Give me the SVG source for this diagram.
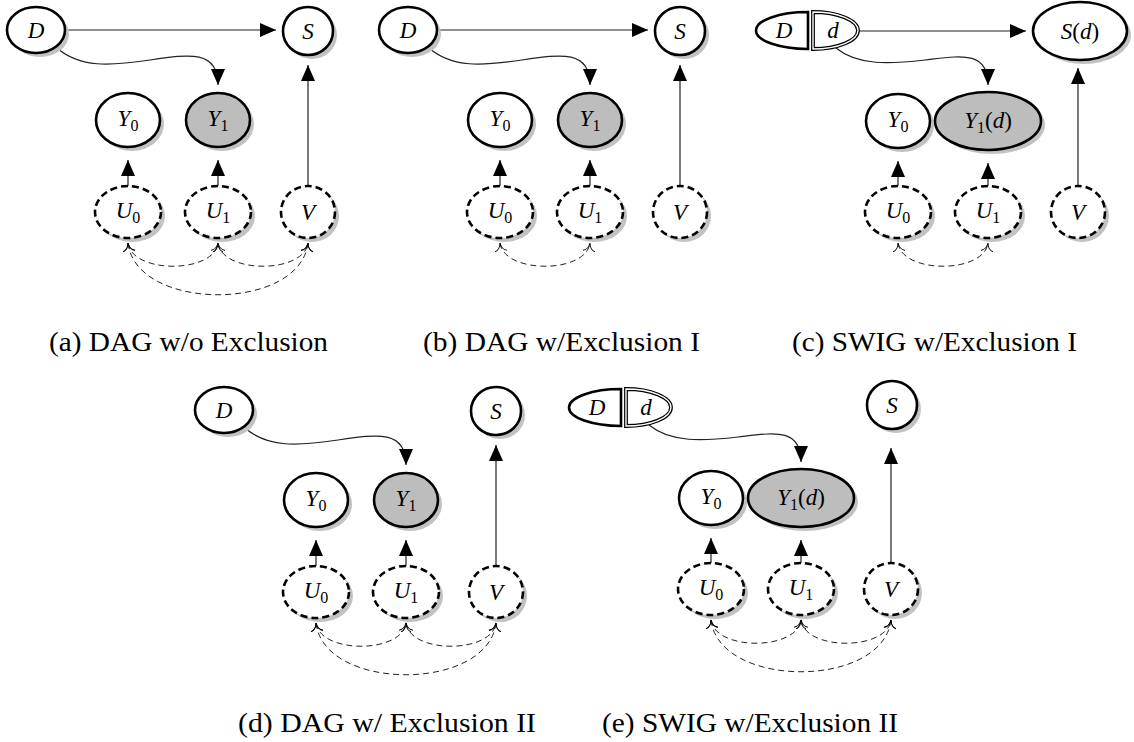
<svg xmlns="http://www.w3.org/2000/svg" width="1134" height="742" viewBox="0 0 1134 742">
<style>
.sh{fill:#c2c2c2;stroke:none}
.nd{fill:#fff;stroke:#000;stroke-width:2.6}
.obs{fill:#bdbdbd}
.lat{stroke-dasharray:7 4}
.lbl{font-size:23px;font-style:italic;text-anchor:middle;fill:#000}
.up{font-style:normal}
.sub{font-style:normal;font-size:16px}
.e{fill:none;stroke:#222;stroke-width:1.2}
.bi{fill:none;stroke:#222;stroke-width:1;stroke-dasharray:6 4}
.cap{font-size:27px;fill:#000}
</style>
<defs>
<marker id="arr" markerUnits="userSpaceOnUse" viewBox="-17 -8 18 16" markerWidth="18" markerHeight="16" refX="0" refY="0" orient="auto"><path d="M0,0 L-16,-7 L-16,7 Z" fill="#000" stroke="none"/></marker>
<marker id="to" markerUnits="userSpaceOnUse" viewBox="-9 -8 10 16" markerWidth="10" markerHeight="16" refX="0" refY="0" orient="auto-start-reverse"><path d="M-8,-6 C-7.5,-3 -4,-0.5 0,0 C-4,0.5 -7.5,3 -8,6" fill="none" stroke="#000" stroke-width="1" stroke-dasharray="none"/></marker>
</defs>

<g font-family="Liberation Serif, DejaVu Serif, serif">
<!-- Panel (a) -->
<g id="panel-a">
<g id="a-edges">
<path class="e" d="M66,30 L276,30" marker-end="url(#arr)"/>
<path class="e" d="M57,48 C80,68 110,66 150,60 C190,54 218,50 218,85" marker-end="url(#arr)"/>
<path class="e" d="M128,186 L128,160" marker-end="url(#arr)"/>
<path class="e" d="M218,186 L218,160" marker-end="url(#arr)"/>
<path class="e" d="M308,186 L308,65" marker-end="url(#arr)"/>
<path class="bi" d="M128,243 C132,274 214,274 218,243" marker-start="url(#to)" marker-end="url(#to)"/>
<path class="bi" d="M218,243 C222,274 304,274 308,243" marker-start="url(#to)" marker-end="url(#to)"/>
<path class="bi" d="M128,243 C136,312 300,312 308,243" marker-start="url(#to)" marker-end="url(#to)"/>
</g>
<g id="a-D"><ellipse class="sh" cx="40" cy="34" rx="29" ry="23"/><ellipse class="nd" cx="36" cy="30" rx="29" ry="23"/><text class="lbl" x="36" y="38">D</text></g>
<g id="a-S"><ellipse class="sh" cx="312" cy="35" rx="25" ry="24"/><ellipse class="nd" cx="308" cy="31" rx="25" ry="24"/><text class="lbl" x="308" y="39">S</text></g>
<g id="a-Y0"><ellipse class="sh" cx="132" cy="124" rx="32" ry="27"/><ellipse class="nd" cx="128" cy="120" rx="32" ry="27"/><text class="lbl" x="128" y="126">Y<tspan class="sub" dy="5">0</tspan></text></g>
<g id="a-Y1"><ellipse class="sh" cx="222" cy="124" rx="32" ry="27"/><ellipse class="nd obs" cx="218" cy="120" rx="32" ry="27"/><text class="lbl" x="218" y="126">Y<tspan class="sub" dy="5">1</tspan></text></g>
<g id="a-U0"><ellipse class="sh" cx="132" cy="216" rx="33" ry="26"/><ellipse class="nd lat" cx="128" cy="212" rx="33" ry="26"/><text class="lbl" x="128" y="218">U<tspan class="sub" dy="5">0</tspan></text></g>
<g id="a-U1"><ellipse class="sh" cx="222" cy="216" rx="33" ry="26"/><ellipse class="nd lat" cx="218" cy="212" rx="33" ry="26"/><text class="lbl" x="218" y="218">U<tspan class="sub" dy="5">1</tspan></text></g>
<g id="a-V"><ellipse class="sh" cx="312" cy="216" rx="27" ry="26"/><ellipse class="nd lat" cx="308" cy="212" rx="27" ry="26"/><text class="lbl" x="308" y="220">V</text></g>
</g>

<!-- Panel (b) -->
<g id="panel-b" transform="translate(372,0)">
<g id="b-edges">
<path class="e" d="M66,30 L276,30" marker-end="url(#arr)"/>
<path class="e" d="M57,48 C80,68 110,66 150,60 C190,54 218,50 218,85" marker-end="url(#arr)"/>
<path class="e" d="M128,186 L128,160" marker-end="url(#arr)"/>
<path class="e" d="M218,186 L218,160" marker-end="url(#arr)"/>
<path class="e" d="M308,186 L308,65" marker-end="url(#arr)"/>
<path class="bi" d="M128,243 C132,274 214,274 218,243" marker-start="url(#to)" marker-end="url(#to)"/>
</g>
<g id="b-D"><ellipse class="sh" cx="40" cy="34" rx="29" ry="23"/><ellipse class="nd" cx="36" cy="30" rx="29" ry="23"/><text class="lbl" x="36" y="38">D</text></g>
<g id="b-S"><ellipse class="sh" cx="312" cy="35" rx="25" ry="24"/><ellipse class="nd" cx="308" cy="31" rx="25" ry="24"/><text class="lbl" x="308" y="39">S</text></g>
<g id="b-Y0"><ellipse class="sh" cx="132" cy="124" rx="32" ry="27"/><ellipse class="nd" cx="128" cy="120" rx="32" ry="27"/><text class="lbl" x="128" y="126">Y<tspan class="sub" dy="5">0</tspan></text></g>
<g id="b-Y1"><ellipse class="sh" cx="222" cy="124" rx="32" ry="27"/><ellipse class="nd obs" cx="218" cy="120" rx="32" ry="27"/><text class="lbl" x="218" y="126">Y<tspan class="sub" dy="5">1</tspan></text></g>
<g id="b-U0"><ellipse class="sh" cx="132" cy="216" rx="33" ry="26"/><ellipse class="nd lat" cx="128" cy="212" rx="33" ry="26"/><text class="lbl" x="128" y="218">U<tspan class="sub" dy="5">0</tspan></text></g>
<g id="b-U1"><ellipse class="sh" cx="222" cy="216" rx="33" ry="26"/><ellipse class="nd lat" cx="218" cy="212" rx="33" ry="26"/><text class="lbl" x="218" y="218">U<tspan class="sub" dy="5">1</tspan></text></g>
<g id="b-V"><ellipse class="sh" cx="312" cy="216" rx="27" ry="26"/><ellipse class="nd lat" cx="308" cy="212" rx="27" ry="26"/><text class="lbl" x="308" y="220">V</text></g>
</g>

<!-- Panel (c) -->
<g id="panel-c">
<g id="c-edges">
<path class="e" d="M859,31 L1026,31" marker-end="url(#arr)"/>
<path class="e" d="M836,48 C858,66 890,64 925,60 C960,56 988,50 988,85" marker-end="url(#arr)"/>
<path class="e" d="M898,186 L898,161" marker-end="url(#arr)"/>
<path class="e" d="M988,186 L988,163" marker-end="url(#arr)"/>
<path class="e" d="M1078,186 L1078,68" marker-end="url(#arr)"/>
<path class="bi" d="M898,243 C902,274 984,274 988,243" marker-start="url(#to)" marker-end="url(#to)"/>
</g>
<g id="c-Dd">
<path class="nd" d="M808,12 L808,49 A52,18.5 0 0 1 808,12 Z"/>
<path d="M813,12 L813,49 A45,18.5 0 0 0 813,12 Z" fill="#fff" stroke="#000" stroke-width="3.8"/>
<path d="M813,12 L813,49 A45,18.5 0 0 0 813,12 Z" fill="none" stroke="#fff" stroke-width="1.4"/>
<text class="lbl" x="784" y="38">D</text>
<text class="lbl" x="833" y="38">d</text>
</g>
<g id="c-Sd"><ellipse class="sh" cx="1084" cy="35" rx="47" ry="29"/><ellipse class="nd" cx="1080" cy="31" rx="47" ry="29"/><text class="lbl" x="1080" y="39">S<tspan class="up">(</tspan>d<tspan class="up">)</tspan></text></g>
<g id="c-Y0"><ellipse class="sh" cx="902" cy="125" rx="32" ry="27"/><ellipse class="nd" cx="898" cy="121" rx="32" ry="27"/><text class="lbl" x="898" y="127">Y<tspan class="sub" dy="5">0</tspan></text></g>
<g id="c-Y1d"><ellipse class="sh" cx="992" cy="125" rx="53" ry="29"/><ellipse class="nd obs" cx="988" cy="121" rx="53" ry="29"/><text class="lbl" x="988" y="128">Y<tspan class="sub" dy="5">1</tspan><tspan class="up" dy="-5">(</tspan>d<tspan class="up">)</tspan></text></g>
<g id="c-U0"><ellipse class="sh" cx="902" cy="216" rx="33" ry="26"/><ellipse class="nd lat" cx="898" cy="212" rx="33" ry="26"/><text class="lbl" x="898" y="218">U<tspan class="sub" dy="5">0</tspan></text></g>
<g id="c-U1"><ellipse class="sh" cx="992" cy="216" rx="33" ry="26"/><ellipse class="nd lat" cx="988" cy="212" rx="33" ry="26"/><text class="lbl" x="988" y="218">U<tspan class="sub" dy="5">1</tspan></text></g>
<g id="c-V"><ellipse class="sh" cx="1082" cy="216" rx="27" ry="26"/><ellipse class="nd lat" cx="1078" cy="212" rx="27" ry="26"/><text class="lbl" x="1078" y="220">V</text></g>
</g>

<!-- Panel (d) -->
<g id="panel-d" transform="translate(188,380)">
<g id="d-edges">
<path class="e" d="M57,48 C80,68 110,66 150,60 C190,54 218,50 218,85" marker-end="url(#arr)"/>
<path class="e" d="M128,186 L128,160" marker-end="url(#arr)"/>
<path class="e" d="M218,186 L218,160" marker-end="url(#arr)"/>
<path class="e" d="M308,186 L308,65" marker-end="url(#arr)"/>
<path class="bi" d="M128,243 C132,274 214,274 218,243" marker-start="url(#to)" marker-end="url(#to)"/>
<path class="bi" d="M218,243 C222,274 304,274 308,243" marker-start="url(#to)" marker-end="url(#to)"/>
<path class="bi" d="M128,243 C136,312 300,312 308,243" marker-start="url(#to)" marker-end="url(#to)"/>
</g>
<g id="d-D"><ellipse class="sh" cx="40" cy="34" rx="29" ry="23"/><ellipse class="nd" cx="36" cy="30" rx="29" ry="23"/><text class="lbl" x="36" y="38">D</text></g>
<g id="d-S"><ellipse class="sh" cx="312" cy="35" rx="25" ry="24"/><ellipse class="nd" cx="308" cy="31" rx="25" ry="24"/><text class="lbl" x="308" y="39">S</text></g>
<g id="d-Y0"><ellipse class="sh" cx="132" cy="124" rx="32" ry="27"/><ellipse class="nd" cx="128" cy="120" rx="32" ry="27"/><text class="lbl" x="128" y="126">Y<tspan class="sub" dy="5">0</tspan></text></g>
<g id="d-Y1"><ellipse class="sh" cx="222" cy="124" rx="32" ry="27"/><ellipse class="nd obs" cx="218" cy="120" rx="32" ry="27"/><text class="lbl" x="218" y="126">Y<tspan class="sub" dy="5">1</tspan></text></g>
<g id="d-U0"><ellipse class="sh" cx="132" cy="216" rx="33" ry="26"/><ellipse class="nd lat" cx="128" cy="212" rx="33" ry="26"/><text class="lbl" x="128" y="218">U<tspan class="sub" dy="5">0</tspan></text></g>
<g id="d-U1"><ellipse class="sh" cx="222" cy="216" rx="33" ry="26"/><ellipse class="nd lat" cx="218" cy="212" rx="33" ry="26"/><text class="lbl" x="218" y="218">U<tspan class="sub" dy="5">1</tspan></text></g>
<g id="d-V"><ellipse class="sh" cx="312" cy="216" rx="27" ry="26"/><ellipse class="nd lat" cx="308" cy="212" rx="27" ry="26"/><text class="lbl" x="308" y="220">V</text></g>
</g>

<!-- Panel (e) -->
<g id="panel-e" transform="translate(-187,377)">
<g id="e-edges">
<path class="e" d="M836,48 C858,66 890,64 925,60 C960,56 988,50 988,85" marker-end="url(#arr)"/>
<path class="e" d="M898,186 L898,161" marker-end="url(#arr)"/>
<path class="e" d="M988,186 L988,163" marker-end="url(#arr)"/>
<path class="e" d="M1078,186 L1078,71" marker-end="url(#arr)"/>
<path class="bi" d="M898,243 C902,274 984,274 988,243" marker-start="url(#to)" marker-end="url(#to)"/>
<path class="bi" d="M988,243 C992,274 1074,274 1078,243" marker-start="url(#to)" marker-end="url(#to)"/>
<path class="bi" d="M898,243 C906,312 1070,312 1078,243" marker-start="url(#to)" marker-end="url(#to)"/>
</g>
<g id="e-Dd">
<path class="nd" d="M808,12 L808,49 A52,18.5 0 0 1 808,12 Z"/>
<path d="M813,12 L813,49 A45,18.5 0 0 0 813,12 Z" fill="#fff" stroke="#000" stroke-width="3.8"/>
<path d="M813,12 L813,49 A45,18.5 0 0 0 813,12 Z" fill="none" stroke="#fff" stroke-width="1.4"/>
<text class="lbl" x="784" y="38">D</text>
<text class="lbl" x="833" y="38">d</text>
</g>
<g id="e-S"><ellipse class="sh" cx="1083" cy="32" rx="25" ry="24"/><ellipse class="nd" cx="1079" cy="28" rx="25" ry="24"/><text class="lbl" x="1079" y="36">S</text></g>
<g id="e-Y0"><ellipse class="sh" cx="902" cy="125" rx="32" ry="27"/><ellipse class="nd" cx="898" cy="121" rx="32" ry="27"/><text class="lbl" x="898" y="127">Y<tspan class="sub" dy="5">0</tspan></text></g>
<g id="e-Y1d"><ellipse class="sh" cx="992" cy="125" rx="53" ry="29"/><ellipse class="nd obs" cx="988" cy="121" rx="53" ry="29"/><text class="lbl" x="988" y="128">Y<tspan class="sub" dy="5">1</tspan><tspan class="up" dy="-5">(</tspan>d<tspan class="up">)</tspan></text></g>
<g id="e-U0"><ellipse class="sh" cx="902" cy="216" rx="33" ry="26"/><ellipse class="nd lat" cx="898" cy="212" rx="33" ry="26"/><text class="lbl" x="898" y="218">U<tspan class="sub" dy="5">0</tspan></text></g>
<g id="e-U1"><ellipse class="sh" cx="992" cy="216" rx="33" ry="26"/><ellipse class="nd lat" cx="988" cy="212" rx="33" ry="26"/><text class="lbl" x="988" y="218">U<tspan class="sub" dy="5">1</tspan></text></g>
<g id="e-V"><ellipse class="sh" cx="1082" cy="216" rx="27" ry="26"/><ellipse class="nd lat" cx="1078" cy="212" rx="27" ry="26"/><text class="lbl" x="1078" y="220">V</text></g>
</g>

<!-- Captions -->
<g id="captions">
<text class="cap" x="49" y="351" textLength="279" lengthAdjust="spacingAndGlyphs">(a) DAG w/o Exclusion</text>
<text class="cap" x="423" y="351" textLength="277" lengthAdjust="spacingAndGlyphs">(b) DAG w/Exclusion I</text>
<text class="cap" x="792" y="351" textLength="285" lengthAdjust="spacingAndGlyphs">(c) SWIG w/Exclusion I</text>
<text class="cap" x="238" y="732" textLength="298" lengthAdjust="spacingAndGlyphs">(d) DAG w/ Exclusion II</text>
<text class="cap" x="602" y="732" textLength="296" lengthAdjust="spacingAndGlyphs">(e) SWIG w/Exclusion II</text>
</g>
</g>
</svg>
